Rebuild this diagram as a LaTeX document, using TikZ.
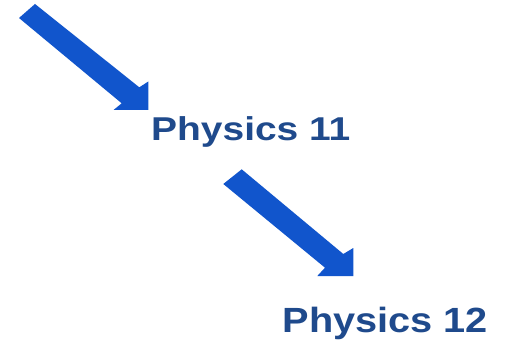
\documentclass[tikz,border=0pt]{standalone}
\usepackage{fontspec}
\usepackage{graphicx}
\setmainfont{Liberation Sans}
\definecolor{arrowblue}{HTML}{1155CC}
\definecolor{textblue}{HTML}{1F4A8C}
\begin{document}
\begin{tikzpicture}[x=1pt,y=-1pt,
  blockarrow/.style={fill=arrowblue,draw=none},
  label/.style={anchor=base west,inner sep=0pt,text=textblue,font=\bfseries\fontsize{33}{33}\selectfont}]
\useasboundingbox (0,0) rectangle (508,347);
\fill[white] (0,0) rectangle (508,347);
% arrow 1
\draw[blockarrow] (35,4) -- (139.3,87.3) -- (148.3,81.5) -- (148.3,110) -- (113.5,110) -- (121.7,103.3) -- (19,18) -- cycle;
% arrow 2
\draw[blockarrow] (241.7,169.3) -- (343.3,254) -- (353.3,248) -- (353.3,276) -- (317.3,276) -- (325,267.7) -- (223.3,184) -- cycle;
\node[label] (p11) at (151,141) {\scalebox{1.18}[1]{Physics 11}};
\node[label,font=\bfseries\fontsize{35}{35}\selectfont] (p12) at (282.5,332.3) {\scalebox{1.135}[1]{Physics 12}};
\end{tikzpicture}
\end{document}
